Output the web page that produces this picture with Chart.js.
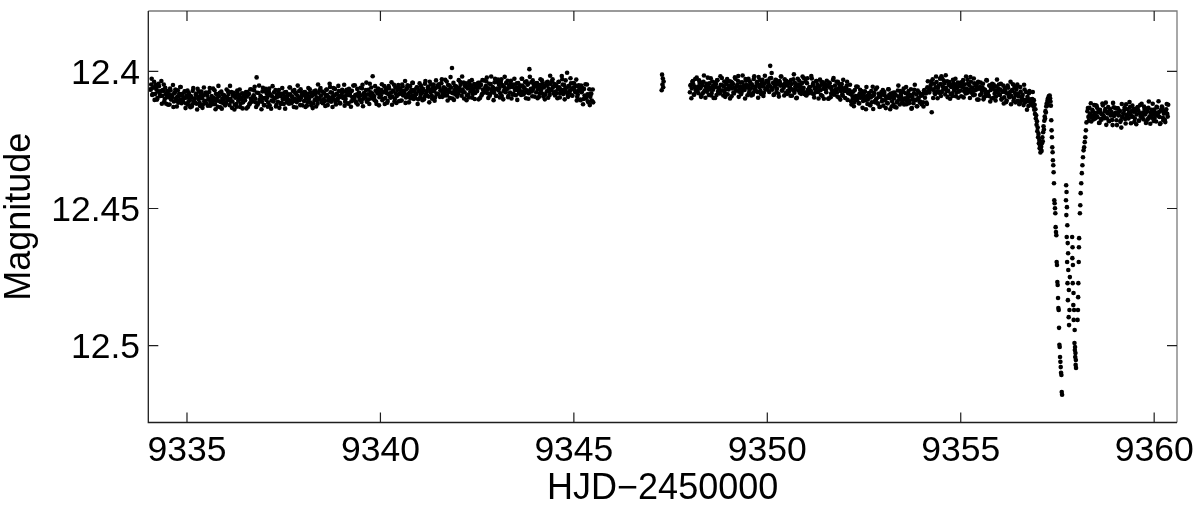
<!DOCTYPE html>
<html>
<head>
<meta charset="utf-8">
<script src="https://cdn.jsdelivr.net/npm/chart.js@4/dist/chart.umd.min.js"></script>
<style>
html,body{margin:0;padding:0;background:#fff;}
#wrap{width:1200px;height:509px;}
</style>
</head>
<body>
<div id="wrap"><canvas id="c" width="1200" height="509"></canvas></div>
<script>
// ---------- data (HJD-2450000, magnitude) ----------
const seg1Time = [
9334.05,9334.075,9334.1,9334.125,9334.15,9334.175,9334.2,9334.225,9334.25,9334.275,9334.3,9334.325,9334.35,9334.375,9334.4,9334.425,9334.45,9334.475,
9334.5,9334.525,9334.55,9334.575,9334.6,9334.625,9334.65,9334.675,9334.7,9334.725,9334.75,9334.775,9334.8,9334.825,9334.85,9334.875,9334.9,9334.925,9334.95,9334.975,
9335,9335.025,9335.05,9335.075,9335.1,9335.125,9335.15,9335.175,9335.2,9335.225,9335.25,9335.275,9335.3,9335.325,9335.35,9335.375,9335.4,9335.425,9335.45,9335.475,
9335.5,9335.525,9335.55,9335.575,9335.6,9335.625,9335.65,9335.675,9335.7,9335.725,9335.75,9335.775,9335.8,9335.825,9335.85,9335.875,9335.9,9335.925,9335.95,9335.975,
9336,9336.025,9336.05,9336.075,9336.1,9336.125,9336.15,9336.175,9336.2,9336.225,9336.25,9336.275,9336.3,9336.325,9336.35,9336.375,9336.4,9336.425,9336.45,9336.475,
9336.5,9336.525,9336.55,9336.575,9336.6,9336.625,9336.65,9336.675,9336.7,9336.725,9336.75,9336.775,9336.8,9336.825,9336.85,9336.875,9336.9,9336.925,9336.95,9336.975,
9337,9337.025,9337.05,9337.075,9337.1,9337.125,9337.15,9337.175,9337.2,9337.225,9337.25,9337.275,9337.3,9337.325,9337.35,9337.375,9337.4,9337.425,9337.45,9337.475,
9337.5,9337.525,9337.55,9337.575,9337.6,9337.625,9337.65,9337.675,9337.7,9337.725,9337.75,9337.775,9337.8,9337.825,9337.85,9337.875,9337.9,9337.925,9337.95,9337.975,
9338,9338.025,9338.05,9338.075,9338.1,9338.125,9338.15,9338.175,9338.2,9338.225,9338.25,9338.275,9338.3,9338.325,9338.35,9338.375,9338.4,9338.425,9338.45,9338.475,
9338.5,9338.525,9338.55,9338.575,9338.6,9338.625,9338.65,9338.675,9338.7,9338.725,9338.75,9338.775,9338.8,9338.825,9338.85,9338.875,9338.9,9338.925,9338.95,9338.975,
9339,9339.025,9339.05,9339.075,9339.1,9339.125,9339.15,9339.175,9339.2,9339.225,9339.25,9339.275,9339.3,9339.325,9339.35,9339.375,9339.4,9339.425,9339.45,9339.475,
9339.5,9339.525,9339.55,9339.575,9339.6,9339.625,9339.65,9339.675,9339.7,9339.725,9339.75,9339.775,9339.8,9339.825,9339.85,9339.875,9339.9,9339.925,9339.95,9339.975,
9340,9340.025,9340.05,9340.075,9340.1,9340.125,9340.15,9340.175,9340.2,9340.225,9340.25,9340.275,9340.3,9340.325,9340.35,9340.375,9340.4,9340.425,9340.45,9340.475,
9340.5,9340.525,9340.55,9340.575,9340.6,9340.625,9340.65,9340.675,9340.7,9340.725,9340.75,9340.775,9340.8,9340.825,9340.85,9340.875,9340.9,9340.925,9340.95,9340.975,
9341,9341.025,9341.05,9341.075,9341.1,9341.125,9341.15,9341.175,9341.2,9341.225,9341.25,9341.275,9341.3,9341.325,9341.35,9341.375,9341.4,9341.425,9341.45,9341.475,
9341.5,9341.525,9341.55,9341.575,9341.6,9341.625,9341.65,9341.675,9341.7,9341.725,9341.75,9341.775,9341.8,9341.825,9341.85,9341.875,9341.9,9341.925,9341.95,9341.975,
9342,9342.025,9342.05,9342.075,9342.1,9342.125,9342.15,9342.175,9342.2,9342.225,9342.25,9342.275,9342.3,9342.325,9342.35,9342.375,9342.4,9342.425,9342.45,9342.475,
9342.5,9342.525,9342.55,9342.575,9342.6,9342.625,9342.65,9342.675,9342.7,9342.725,9342.75,9342.775,9342.8,9342.825,9342.85,9342.875,9342.9,9342.925,9342.95,9342.975,
9343,9343.025,9343.05,9343.075,9343.1,9343.125,9343.15,9343.175,9343.2,9343.225,9343.25,9343.275,9343.3,9343.325,9343.35,9343.375,9343.4,9343.425,9343.45,9343.475,
9343.5,9343.525,9343.55,9343.575,9343.6,9343.625,9343.65,9343.675,9343.7,9343.725,9343.75,9343.775,9343.8,9343.825,9343.85,9343.875,9343.9,9343.925,9343.95,9343.975,
9344,9344.025,9344.05,9344.075,9344.1,9344.125,9344.15,9344.175,9344.2,9344.225,9344.25,9344.275,9344.3,9344.325,9344.35,9344.375,9344.4,9344.425,9344.45,9344.475,
9344.5,9344.525,9344.55,9344.575,9344.6,9344.625,9344.65,9344.675,9344.7,9344.725,9344.75,9344.775,9344.8,9344.825,9344.85,9344.875,9344.9,9344.925,9344.95,9344.975,
9345,9345.025,9345.05,9345.075,9345.1,9345.125,9345.15,9345.175,9345.2,9345.225,9345.25,9345.275,9345.3,9345.325,9345.35,9345.375,9345.4,9345.425,9345.45,9345.475,9345.5
];
const seg1Mag = [
12.4065,12.4048,12.4086,12.4059,12.4038,12.4083,12.4059,12.4103,12.4073,12.4054,12.4086,12.4072,12.4118,12.4068,12.4048,12.4101,12.4083,12.4094,
12.4077,12.4094,12.4121,12.4070,12.4100,12.4086,12.4130,12.4079,12.4066,12.4107,12.4092,12.4114,12.4082,12.4057,12.4103,12.4088,12.4111,12.4098,12.4074,12.4117,
12.4096,12.4122,12.4079,12.4105,12.4090,12.4128,12.4071,12.4110,12.4098,12.4085,12.4118,12.4064,12.4102,12.4114,12.4093,12.4074,12.4133,12.4088,12.4109,12.4081,
12.4116,12.4089,12.4102,12.4075,12.4125,12.4097,12.4110,12.4063,12.4106,12.4120,12.4082,12.4098,12.4129,12.4091,12.4078,12.4112,12.4136,12.4085,12.4103,12.4094,
12.4117,12.4066,12.4105,12.4083,12.4123,12.4100,12.4075,12.4110,12.4089,12.4139,12.4096,12.4119,12.4070,12.4107,12.4087,12.4130,12.4102,12.4080,12.4113,12.4092,
12.4105,12.4075,12.4092,12.4130,12.4082,12.4116,12.4099,12.4066,12.4109,12.4087,12.4056,12.4113,12.4022,12.4122,12.4079,12.4103,12.4090,12.4138,12.4073,12.4098,
12.4123,12.4073,12.4104,12.4095,12.4114,12.4063,12.4084,12.4136,12.4091,12.4107,12.4076,12.4097,12.4128,12.4086,12.4111,12.4068,12.4090,12.4119,12.4082,12.4101,
12.4119,12.4076,12.4100,12.4113,12.4090,12.4105,12.4059,12.4084,12.4116,12.4094,12.4109,12.4068,12.4081,12.4132,12.4088,12.4102,12.4072,12.4123,12.4096,12.4079,
12.4087,12.4108,12.4075,12.4097,12.4125,12.4082,12.4102,12.4065,12.4114,12.4091,12.4134,12.4084,12.4105,12.4070,12.4095,12.4118,12.4078,12.4100,12.4061,12.4112,
12.4074,12.4102,12.4081,12.4126,12.4067,12.4086,12.4107,12.4095,12.4057,12.4111,12.4078,12.4091,12.4103,12.4064,12.4121,12.4083,12.4098,12.4072,12.4115,12.4089,
12.4083,12.4092,12.4074,12.4125,12.4101,12.4067,12.4080,12.4118,12.4087,12.4071,12.4109,12.4095,12.4052,12.4099,12.4086,12.4114,12.4064,12.4091,12.4078,12.4105,
12.4087,12.4062,12.4127,12.4079,12.4092,12.4068,12.4111,12.4084,12.4102,12.4045,12.4076,12.4098,12.4018,12.4088,12.4105,12.4071,12.4119,12.4081,12.4064,12.4094,
12.4087,12.4068,12.4105,12.4076,12.4054,12.4097,12.4072,12.4114,12.4083,12.4062,12.4093,12.4077,12.4122,12.4070,12.4049,12.4100,12.4081,12.4090,12.4059,12.4109,
12.4062,12.4079,12.4106,12.4055,12.4085,12.4071,12.4115,12.4064,12.4051,12.4092,12.4077,12.4099,12.4067,12.4042,12.4088,12.4073,12.4096,12.4083,12.4059,12.4102,
12.4070,12.4096,12.4053,12.4079,12.4064,12.4102,12.4045,12.4084,12.4072,12.4059,12.4092,12.4038,12.4076,12.4088,12.4067,12.4048,12.4107,12.4062,12.4083,12.4055,
12.4084,12.4057,12.4070,12.4043,12.4093,12.4065,12.4078,12.4031,12.4074,12.4088,12.4050,12.4066,12.4097,12.4059,12.3988,12.4080,12.4104,12.4053,12.4071,12.4062,
12.4083,12.4032,12.4071,12.4049,12.4089,12.4066,12.4041,12.4076,12.4055,12.4105,12.4062,12.4085,12.4036,12.4073,12.4053,12.4096,12.4068,12.4046,12.4079,12.4058,
12.4072,12.4042,12.4059,12.4097,12.4049,12.4083,12.4066,12.4033,12.4076,12.4054,12.4023,12.4080,12.4062,12.4089,12.4046,12.4070,12.4057,12.4105,12.4040,12.4065,
12.4089,12.4039,12.4070,12.4061,12.4080,12.4029,12.4050,12.4102,12.4057,12.4073,12.4042,12.4063,12.4094,12.4052,12.4077,12.4034,12.4056,12.4085,12.4048,12.4067,
12.4087,12.4044,12.4068,12.4081,12.4058,12.4073,12.4027,12.4052,12.4084,12.4062,12.4077,12.4036,12.4049,12.4100,12.3992,12.4070,12.4040,12.4091,12.4064,12.4047,
12.4055,12.4076,12.4043,12.4065,12.4093,12.4050,12.4070,12.4033,12.4082,12.4059,12.4102,12.4052,12.4073,12.4038,12.4063,12.4086,12.4046,12.4068,12.4029,12.4080,
12.4046,12.4074,12.4053,12.4098,12.4039,12.4058,12.4079,12.4067,12.4029,12.4083,12.4050,12.4063,12.4075,12.4005,12.4093,12.4055,12.4070,12.4044,12.4087,12.4061,
12.4060,12.4070,12.4054,12.4106,12.4084,12.4051,12.4066,12.4105,12.4076,12.4061,12.4101,12.4088,12.4047,12.4095,12.4084,12.4113,12.4065,12.4093,12.4082,12.4110,12.4113
];
const seg1bTime = [
9334.0625,9334.0875,9334.1125,9334.1375,9334.1625,9334.1875,9334.2125,9334.2375,9334.2625,9334.2875,9334.3125,9334.3375,9334.3625,9334.3875,9334.4125,9334.4375,9334.4625,9334.4875,
9334.5125,9334.5375,9334.5625,9334.5875,9334.6125,9334.6375,9334.6625,9334.6875,9334.7125,9334.7375,9334.7625,9334.7875,9334.8125,9334.8375,9334.8625,9334.8875,9334.9125,9334.9375,9334.9625,9334.9875,
9335.0125,9335.0375,9335.0625,9335.0875,9335.1125,9335.1375,9335.1625,9335.1875,9335.2125,9335.2375,9335.2625,9335.2875,9335.3125,9335.3375,9335.3625,9335.3875,9335.4125,9335.4375,9335.4625,9335.4875,
9335.5125,9335.5375,9335.5625,9335.5875,9335.6125,9335.6375,9335.6625,9335.6875,9335.7125,9335.7375,9335.7625,9335.7875,9335.8125,9335.8375,9335.8625,9335.8875,9335.9125,9335.9375,9335.9625,9335.9875,
9336.0125,9336.0375,9336.0625,9336.0875,9336.1125,9336.1375,9336.1625,9336.1875,9336.2125,9336.2375,9336.2625,9336.2875,9336.3125,9336.3375,9336.3625,9336.3875,9336.4125,9336.4375,9336.4625,9336.4875,
9336.5125,9336.5375,9336.5625,9336.5875,9336.6125,9336.6375,9336.6625,9336.6875,9336.7125,9336.7375,9336.7625,9336.7875,9336.8125,9336.8375,9336.8625,9336.8875,9336.9125,9336.9375,9336.9625,9336.9875,
9337.0125,9337.0375,9337.0625,9337.0875,9337.1125,9337.1375,9337.1625,9337.1875,9337.2125,9337.2375,9337.2625,9337.2875,9337.3125,9337.3375,9337.3625,9337.3875,9337.4125,9337.4375,9337.4625,9337.4875,
9337.5125,9337.5375,9337.5625,9337.5875,9337.6125,9337.6375,9337.6625,9337.6875,9337.7125,9337.7375,9337.7625,9337.7875,9337.8125,9337.8375,9337.8625,9337.8875,9337.9125,9337.9375,9337.9625,9337.9875,
9338.0125,9338.0375,9338.0625,9338.0875,9338.1125,9338.1375,9338.1625,9338.1875,9338.2125,9338.2375,9338.2625,9338.2875,9338.3125,9338.3375,9338.3625,9338.3875,9338.4125,9338.4375,9338.4625,9338.4875,
9338.5125,9338.5375,9338.5625,9338.5875,9338.6125,9338.6375,9338.6625,9338.6875,9338.7125,9338.7375,9338.7625,9338.7875,9338.8125,9338.8375,9338.8625,9338.8875,9338.9125,9338.9375,9338.9625,9338.9875,
9339.0125,9339.0375,9339.0625,9339.0875,9339.1125,9339.1375,9339.1625,9339.1875,9339.2125,9339.2375,9339.2625,9339.2875,9339.3125,9339.3375,9339.3625,9339.3875,9339.4125,9339.4375,9339.4625,9339.4875,
9339.5125,9339.5375,9339.5625,9339.5875,9339.6125,9339.6375,9339.6625,9339.6875,9339.7125,9339.7375,9339.7625,9339.7875,9339.8125,9339.8375,9339.8625,9339.8875,9339.9125,9339.9375,9339.9625,9339.9875,
9340.0125,9340.0375,9340.0625,9340.0875,9340.1125,9340.1375,9340.1625,9340.1875,9340.2125,9340.2375,9340.2625,9340.2875,9340.3125,9340.3375,9340.3625,9340.3875,9340.4125,9340.4375,9340.4625,9340.4875,
9340.5125,9340.5375,9340.5625,9340.5875,9340.6125,9340.6375,9340.6625,9340.6875,9340.7125,9340.7375,9340.7625,9340.7875,9340.8125,9340.8375,9340.8625,9340.8875,9340.9125,9340.9375,9340.9625,9340.9875,
9341.0125,9341.0375,9341.0625,9341.0875,9341.1125,9341.1375,9341.1625,9341.1875,9341.2125,9341.2375,9341.2625,9341.2875,9341.3125,9341.3375,9341.3625,9341.3875,9341.4125,9341.4375,9341.4625,9341.4875,
9341.5125,9341.5375,9341.5625,9341.5875,9341.6125,9341.6375,9341.6625,9341.6875,9341.7125,9341.7375,9341.7625,9341.7875,9341.8125,9341.8375,9341.8625,9341.8875,9341.9125,9341.9375,9341.9625,9341.9875,
9342.0125,9342.0375,9342.0625,9342.0875,9342.1125,9342.1375,9342.1625,9342.1875,9342.2125,9342.2375,9342.2625,9342.2875,9342.3125,9342.3375,9342.3625,9342.3875,9342.4125,9342.4375,9342.4625,9342.4875,
9342.5125,9342.5375,9342.5625,9342.5875,9342.6125,9342.6375,9342.6625,9342.6875,9342.7125,9342.7375,9342.7625,9342.7875,9342.8125,9342.8375,9342.8625,9342.8875,9342.9125,9342.9375,9342.9625,9342.9875,
9343.0125,9343.0375,9343.0625,9343.0875,9343.1125,9343.1375,9343.1625,9343.1875,9343.2125,9343.2375,9343.2625,9343.2875,9343.3125,9343.3375,9343.3625,9343.3875,9343.4125,9343.4375,9343.4625,9343.4875,
9343.5125,9343.5375,9343.5625,9343.5875,9343.6125,9343.6375,9343.6625,9343.6875,9343.7125,9343.7375,9343.7625,9343.7875,9343.8125,9343.8375,9343.8625,9343.8875,9343.9125,9343.9375,9343.9625,9343.9875,
9344.0125,9344.0375,9344.0625,9344.0875,9344.1125,9344.1375,9344.1625,9344.1875,9344.2125,9344.2375,9344.2625,9344.2875,9344.3125,9344.3375,9344.3625,9344.3875,9344.4125,9344.4375,9344.4625,9344.4875,
9344.5125,9344.5375,9344.5625,9344.5875,9344.6125,9344.6375,9344.6625,9344.6875,9344.7125,9344.7375,9344.7625,9344.7875,9344.8125,9344.8375,9344.8625,9344.8875,9344.9125,9344.9375,9344.9625,9344.9875,
9345.0125,9345.0375,9345.0625,9345.0875,9345.1125,9345.1375,9345.1625,9345.1875,9345.2125,9345.2375,9345.2625,9345.2875,9345.3125,9345.3375,9345.3625,9345.3875,9345.4125,9345.4375,9345.4625,9345.4875
];
const seg1bMag = [
12.4067,12.4027,12.4083,12.4059,12.4104,12.4049,12.4067,12.4097,12.4045,12.4077,12.4090,12.4035,12.4089,12.4071,12.4110,12.4060,12.4118,12.4072,
12.4122,12.4085,12.4063,12.4103,12.4094,12.4050,12.4110,12.4076,12.4099,12.4128,12.4069,12.4091,12.4105,12.4057,12.4116,12.4082,12.4097,12.4073,12.4134,12.4088,
12.4070,12.4111,12.4088,12.4131,12.4095,12.4120,12.4061,12.4104,12.4115,12.4081,12.4139,12.4092,12.4074,12.4126,12.4084,12.4098,12.4121,12.4059,12.4107,12.4077,
12.4079,12.4125,12.4102,12.4061,12.4113,12.4090,12.4120,12.4096,12.4069,12.4138,12.4107,12.4084,12.4053,12.4109,12.4131,12.4074,12.4100,12.4116,12.4087,12.4124,
12.4114,12.4094,12.4073,12.4103,12.4053,12.4110,12.4133,12.4087,12.4078,12.4122,12.4090,12.4129,12.4082,12.4099,12.4066,12.4117,12.4096,12.4135,12.4089,12.4081,
12.4089,12.4135,12.4075,12.4084,12.4121,12.4065,12.4104,12.4110,12.4092,12.4070,12.4099,12.4130,12.4078,12.4116,12.4052,12.4106,12.4093,12.4111,12.4060,12.4123,
12.4097,12.4064,12.4082,12.4129,12.4073,12.4124,12.4087,12.4106,12.4054,12.4110,12.4099,12.4068,12.4122,12.4093,12.4077,12.4133,12.4090,12.4115,12.4061,12.4102,
12.4090,12.4136,12.4075,12.4099,12.4084,12.4118,12.4059,12.4107,12.4093,12.4071,12.4130,12.4101,12.4078,12.4112,12.4052,12.4096,12.4105,12.4065,12.4087,12.4124,
12.4076,12.4084,12.4130,12.4091,12.4112,12.4061,12.4094,12.4077,12.4124,12.4085,12.4117,12.4073,12.4082,12.4128,12.4105,12.4048,12.4098,12.4068,12.4089,12.4109,
12.4116,12.4079,12.4108,12.4092,12.4066,12.4123,12.4101,12.4045,12.4076,12.4099,12.4130,12.4061,12.4088,12.4112,12.4082,12.4105,12.4053,12.4094,12.4117,12.4071,
12.4067,12.4097,12.4049,12.4111,12.4088,12.4074,12.4116,12.4064,12.4082,12.4129,12.4071,12.4105,12.4094,12.4051,12.4110,12.4085,12.4121,12.4078,12.4101,12.4060,
12.4112,12.4049,12.4100,12.4082,12.4095,12.4041,12.4105,12.4067,12.4119,12.4088,12.4059,12.4081,12.4099,12.4093,12.4054,12.4110,12.4073,12.4064,12.4124,12.4078,
12.4088,12.4047,12.4101,12.4076,12.4119,12.4063,12.4079,12.4108,12.4054,12.4085,12.4096,12.4040,12.4092,12.4073,12.4110,12.4059,12.4115,12.4068,12.4050,12.4083,
12.4107,12.4070,12.4048,12.4088,12.4079,12.4035,12.4095,12.4061,12.4084,12.4113,12.4054,12.4076,12.4090,12.4042,12.4101,12.4067,12.4082,12.4058,12.4119,12.4073,
12.4044,12.4085,12.4062,12.4105,12.4069,12.4094,12.4035,12.4078,12.4089,12.4055,12.4113,12.4066,12.4048,12.4100,12.4058,12.4072,12.4095,12.4033,12.4081,12.4051,
12.4047,12.4093,12.4070,12.4029,12.4081,12.4058,12.4088,12.4064,12.4037,12.4106,12.4075,12.4052,12.4021,12.4077,12.4099,12.4042,12.4068,12.4084,12.4055,12.4092,
12.4080,12.4060,12.4039,12.4069,12.4019,12.4076,12.4099,12.4053,12.4044,12.4088,12.4056,12.4095,12.4048,12.4065,12.4032,12.4083,12.4062,12.4101,12.4055,12.4047,
12.4056,12.4102,12.4042,12.4051,12.4088,12.4032,12.4071,12.4077,12.4059,12.4037,12.4066,12.4097,12.4045,12.4083,12.4019,12.4073,12.4060,12.4078,12.4027,12.4090,
12.4063,12.4030,12.4048,12.4095,12.4039,12.4090,12.4053,12.4072,12.4020,12.4076,12.4065,12.4034,12.4088,12.4059,12.4043,12.4099,12.4056,12.4081,12.4027,12.4068,
12.4058,12.4104,12.4043,12.4067,12.4052,12.4086,12.4027,12.4075,12.4061,12.4039,12.4098,12.4069,12.4046,12.4080,12.4020,12.4064,12.4073,12.4033,12.4055,12.4092,
12.4044,12.4052,12.4098,12.4059,12.4080,12.4029,12.4062,12.4045,12.4092,12.4053,12.4085,12.4041,12.4050,12.4096,12.4073,12.4016,12.4066,12.4036,12.4057,12.4077,
12.4088,12.4051,12.4080,12.4064,12.4038,12.4095,12.4073,12.4017,12.4048,12.4071,12.4102,12.4033,12.4060,12.4084,12.4054,12.4077,12.4025,12.4066,12.4089,12.4043,
12.4045,12.4076,12.4030,12.4093,12.4072,12.4059,12.4103,12.4052,12.4072,12.4120,12.4064,12.4099,12.4090,12.4048,12.4109,12.4085,12.4123,12.4081,12.4106,12.4066
];

const gapTime = [9347.27,9347.28,9347.29,9347.30,9347.31,9347.32];
const gapMag  = [12.4069,12.4012,12.4048,12.4026,12.4058,12.4037];

const seg2Time = [
9348,9348.025,9348.05,9348.075,9348.1,9348.125,9348.15,9348.175,9348.2,9348.225,9348.25,9348.275,9348.3,9348.325,9348.35,9348.375,9348.4,9348.425,9348.45,9348.475,
9348.5,9348.525,9348.55,9348.575,9348.6,9348.625,9348.65,9348.675,9348.7,9348.725,9348.75,9348.775,9348.8,9348.825,9348.85,9348.875,9348.9,9348.925,9348.95,9348.975,
9349,9349.025,9349.05,9349.075,9349.1,9349.125,9349.15,9349.175,9349.2,9349.225,9349.25,9349.275,9349.3,9349.325,9349.35,9349.375,9349.4,9349.425,9349.45,9349.475,
9349.5,9349.525,9349.55,9349.575,9349.6,9349.625,9349.65,9349.675,9349.7,9349.725,9349.75,9349.775,9349.8,9349.825,9349.85,9349.875,9349.9,9349.925,9349.95,9349.975,
9350,9350.025,9350.05,9350.075,9350.1,9350.125,9350.15,9350.175,9350.2,9350.225,9350.25,9350.275,9350.3,9350.325,9350.35,9350.375,9350.4,9350.425,9350.45,9350.475,
9350.5,9350.525,9350.55,9350.575,9350.6,9350.625,9350.65,9350.675,9350.7,9350.725,9350.75,9350.775,9350.8,9350.825,9350.85,9350.875,9350.9,9350.925,9350.95,9350.975,
9351,9351.025,9351.05,9351.075,9351.1,9351.125,9351.15,9351.175,9351.2,9351.225,9351.25,9351.275,9351.3,9351.325,9351.35,9351.375,9351.4,9351.425,9351.45,9351.475,
9351.5,9351.525,9351.55,9351.575,9351.6,9351.625,9351.65,9351.675,9351.7,9351.725,9351.75,9351.775,9351.8,9351.825,9351.85,9351.875,9351.9,9351.925,9351.95,9351.975,
9352,9352.025,9352.05,9352.075,9352.1,9352.125,9352.15,9352.175,9352.2,9352.225,9352.25,9352.275,9352.3,9352.325,9352.35,9352.375,9352.4,9352.425,9352.45,9352.475,
9352.5,9352.525,9352.55,9352.575,9352.6,9352.625,9352.65,9352.675,9352.7,9352.725,9352.75,9352.775,9352.8,9352.825,9352.85,9352.875,9352.9,9352.925,9352.95,9352.975,
9353,9353.025,9353.05,9353.075,9353.1,9353.125,9353.15,9353.175,9353.2,9353.225,9353.25,9353.275,9353.3,9353.325,9353.35,9353.375,9353.4,9353.425,9353.45,9353.475,
9353.5,9353.525,9353.55,9353.575,9353.6,9353.625,9353.65,9353.675,9353.7,9353.725,9353.75,9353.775,9353.8,9353.825,9353.85,9353.875,9353.9,9353.925,9353.95,9353.975,
9354,9354.025,9354.05,9354.075,9354.1,9354.125,9354.15,9354.175,9354.2,9354.225,9354.25,9354.275,9354.3,9354.325,9354.35,9354.375,9354.4,9354.425,9354.45,9354.475,
9354.5,9354.525,9354.55,9354.575,9354.6,9354.625,9354.65,9354.675,9354.7,9354.725,9354.75,9354.775,9354.8,9354.825,9354.85,9354.875,9354.9,9354.925,9354.95,9354.975,
9355,9355.025,9355.05,9355.075,9355.1,9355.125,9355.15,9355.175,9355.2,9355.225,9355.25,9355.275,9355.3,9355.325,9355.35,9355.375,9355.4,9355.425,9355.45,9355.475,
9355.5,9355.525,9355.55,9355.575,9355.6,9355.625,9355.65,9355.675,9355.7,9355.725,9355.75,9355.775,9355.8,9355.825,9355.85,9355.875,9355.9,9355.925,9355.95,9355.975,
9356,9356.025,9356.05,9356.075,9356.1,9356.125,9356.15,9356.175,9356.2,9356.225,9356.25,9356.275,9356.3,9356.325,9356.35,9356.375,9356.4,9356.425,9356.45,9356.475,
9356.5,9356.525,9356.55,9356.575,9356.6,9356.625,9356.65,9356.675,9356.7,9356.725,9356.75,9356.775,9356.8,9356.825,9356.85
];
const seg2Mag = [
12.4076,12.4049,12.4062,12.4035,12.4085,12.4057,12.4070,12.4023,12.4066,12.4080,12.4042,12.4058,12.4089,12.4051,12.4038,12.4072,12.4096,12.4045,12.4063,12.4054,
12.4044,12.4061,12.4088,12.4037,12.4067,12.4053,12.4097,12.4046,12.4033,12.4074,12.4059,12.4081,12.4049,12.4024,12.4070,12.4055,12.4078,12.4065,12.4041,12.4084,
12.4066,12.4036,12.4053,12.4091,12.4043,12.4077,12.4060,12.4027,12.4070,12.4048,12.4017,12.4074,12.4056,12.4083,12.4040,12.4064,12.4051,12.4099,12.4034,12.4059,
12.4053,12.4079,12.4036,12.4062,12.4047,12.4085,12.4028,12.4067,12.4055,12.4042,12.4075,12.4021,12.4059,12.4071,12.4050,12.4031,12.4090,12.4045,12.4066,12.4038,
12.4057,12.4038,12.4075,12.3980,12.4024,12.4067,12.4042,12.4084,12.4053,12.4032,12.4063,12.4047,12.4092,12.4040,12.4019,12.4070,12.4051,12.4060,12.4029,12.4079,
12.4051,12.4072,12.4039,12.4061,12.4089,12.4046,12.4066,12.4029,12.4078,12.4055,12.4098,12.4048,12.4069,12.4034,12.4059,12.4082,12.4042,12.4064,12.4025,12.4076,
12.4086,12.4043,12.4067,12.4080,12.4057,12.4072,12.4026,12.4051,12.4083,12.4061,12.4076,12.4035,12.4048,12.4099,12.4055,12.4069,12.4039,12.4090,12.4063,12.4046,
12.4048,12.4076,12.4055,12.4100,12.4041,12.4060,12.4081,12.4069,12.4031,12.4085,12.4052,12.4065,12.4077,12.4038,12.4095,12.4057,12.4072,12.4046,12.4089,12.4063,
12.4062,12.4071,12.4053,12.4104,12.4080,12.4070,12.4083,12.4121,12.4090,12.4074,12.4112,12.4098,12.4055,12.4102,12.4089,12.4117,12.4067,12.4094,12.4081,12.4108,
12.4098,12.4073,12.4138,12.4090,12.4103,12.4079,12.4122,12.4095,12.4113,12.4056,12.4087,12.4109,12.4066,12.4099,12.4116,12.4082,12.4130,12.4092,12.4075,12.4105,
12.4125,12.4075,12.4106,12.4097,12.4116,12.4065,12.4086,12.4138,12.4093,12.4109,12.4078,12.4099,12.4130,12.4088,12.4113,12.4070,12.4092,12.4121,12.4084,12.4103,
12.4114,12.4063,12.4102,12.4080,12.4120,12.4097,12.4072,12.4107,12.4086,12.4136,12.4093,12.4116,12.4067,12.4104,12.4084,12.4127,12.4099,12.4077,12.4110,12.4089,
12.4087,12.4113,12.4070,12.4096,12.4081,12.4119,12.4036,12.4075,12.4063,12.4050,12.4149,12.4029,12.4067,12.4079,12.4058,12.4039,12.4098,12.4053,12.4074,12.4046,
12.4018,12.4027,12.4066,12.4044,12.4084,12.4061,12.4036,12.4071,12.4050,12.4100,12.4057,12.4080,12.4031,12.4068,12.4048,12.4091,12.4063,12.4041,12.4074,12.4053,
12.4070,12.4040,12.4057,12.4095,12.4047,12.4081,12.4064,12.4031,12.4074,12.4052,12.4021,12.4078,12.4060,12.4087,12.4044,12.4068,12.4055,12.4103,12.4038,12.4063,
12.4086,12.4059,12.4072,12.4045,12.4095,12.4067,12.4080,12.4033,12.4076,12.4090,12.4052,12.4068,12.4099,12.4061,12.4048,12.4082,12.4106,12.4055,12.4073,12.4064,
12.4085,12.4066,12.4103,12.4074,12.4052,12.4095,12.4070,12.4112,12.4081,12.4060,12.4091,12.4075,12.4120,12.4068,12.4047,12.4098,12.4079,12.4088,12.4057,12.4107,
12.4091,12.4117,12.4074,12.4100,12.4085,12.4123,12.4066,12.4105,12.4106,12.4093,12.4126,12.4072,12.4110,12.4122,12.4101
];
const seg2bTime = [
9348.0125,9348.0375,9348.0625,9348.0875,9348.1125,9348.1375,9348.1625,9348.1875,9348.2125,9348.2375,9348.2625,9348.2875,9348.3125,9348.3375,9348.3625,9348.3875,9348.4125,9348.4375,9348.4625,9348.4875,
9348.5125,9348.5375,9348.5625,9348.5875,9348.6125,9348.6375,9348.6625,9348.6875,9348.7125,9348.7375,9348.7625,9348.7875,9348.8125,9348.8375,9348.8625,9348.8875,9348.9125,9348.9375,9348.9625,9348.9875,
9349.0125,9349.0375,9349.0625,9349.0875,9349.1125,9349.1375,9349.1625,9349.1875,9349.2125,9349.2375,9349.2625,9349.2875,9349.3125,9349.3375,9349.3625,9349.3875,9349.4125,9349.4375,9349.4625,9349.4875,
9349.5125,9349.5375,9349.5625,9349.5875,9349.6125,9349.6375,9349.6625,9349.6875,9349.7125,9349.7375,9349.7625,9349.7875,9349.8125,9349.8375,9349.8625,9349.8875,9349.9125,9349.9375,9349.9625,9349.9875,
9350.0125,9350.0375,9350.0625,9350.0875,9350.1125,9350.1375,9350.1625,9350.1875,9350.2125,9350.2375,9350.2625,9350.2875,9350.3125,9350.3375,9350.3625,9350.3875,9350.4125,9350.4375,9350.4625,9350.4875,
9350.5125,9350.5375,9350.5625,9350.5875,9350.6125,9350.6375,9350.6625,9350.6875,9350.7125,9350.7375,9350.7625,9350.7875,9350.8125,9350.8375,9350.8625,9350.8875,9350.9125,9350.9375,9350.9625,9350.9875,
9351.0125,9351.0375,9351.0625,9351.0875,9351.1125,9351.1375,9351.1625,9351.1875,9351.2125,9351.2375,9351.2625,9351.2875,9351.3125,9351.3375,9351.3625,9351.3875,9351.4125,9351.4375,9351.4625,9351.4875,
9351.5125,9351.5375,9351.5625,9351.5875,9351.6125,9351.6375,9351.6625,9351.6875,9351.7125,9351.7375,9351.7625,9351.7875,9351.8125,9351.8375,9351.8625,9351.8875,9351.9125,9351.9375,9351.9625,9351.9875,
9352.0125,9352.0375,9352.0625,9352.0875,9352.1125,9352.1375,9352.1625,9352.1875,9352.2125,9352.2375,9352.2625,9352.2875,9352.3125,9352.3375,9352.3625,9352.3875,9352.4125,9352.4375,9352.4625,9352.4875,
9352.5125,9352.5375,9352.5625,9352.5875,9352.6125,9352.6375,9352.6625,9352.6875,9352.7125,9352.7375,9352.7625,9352.7875,9352.8125,9352.8375,9352.8625,9352.8875,9352.9125,9352.9375,9352.9625,9352.9875,
9353.0125,9353.0375,9353.0625,9353.0875,9353.1125,9353.1375,9353.1625,9353.1875,9353.2125,9353.2375,9353.2625,9353.2875,9353.3125,9353.3375,9353.3625,9353.3875,9353.4125,9353.4375,9353.4625,9353.4875,
9353.5125,9353.5375,9353.5625,9353.5875,9353.6125,9353.6375,9353.6625,9353.6875,9353.7125,9353.7375,9353.7625,9353.7875,9353.8125,9353.8375,9353.8625,9353.8875,9353.9125,9353.9375,9353.9625,9353.9875,
9354.0125,9354.0375,9354.0625,9354.0875,9354.1125,9354.1375,9354.1625,9354.1875,9354.2125,9354.2375,9354.2625,9354.2875,9354.3125,9354.3375,9354.3625,9354.3875,9354.4125,9354.4375,9354.4625,9354.4875,
9354.5125,9354.5375,9354.5625,9354.5875,9354.6125,9354.6375,9354.6625,9354.6875,9354.7125,9354.7375,9354.7625,9354.7875,9354.8125,9354.8375,9354.8625,9354.8875,9354.9125,9354.9375,9354.9625,9354.9875,
9355.0125,9355.0375,9355.0625,9355.0875,9355.1125,9355.1375,9355.1625,9355.1875,9355.2125,9355.2375,9355.2625,9355.2875,9355.3125,9355.3375,9355.3625,9355.3875,9355.4125,9355.4375,9355.4625,9355.4875,
9355.5125,9355.5375,9355.5625,9355.5875,9355.6125,9355.6375,9355.6625,9355.6875,9355.7125,9355.7375,9355.7625,9355.7875,9355.8125,9355.8375,9355.8625,9355.8875,9355.9125,9355.9375,9355.9625,9355.9875,
9356.0125,9356.0375,9356.0625,9356.0875,9356.1125,9356.1375,9356.1625,9356.1875,9356.2125,9356.2375,9356.2625,9356.2875,9356.3125,9356.3375,9356.3625,9356.3875,9356.4125,9356.4375,9356.4625,9356.4875,
9356.5125,9356.5375,9356.5625,9356.5875,9356.6125,9356.6375,9356.6625,9356.6875,9356.7125,9356.7375,9356.7625,9356.7875,9356.8125,9356.8375,9356.8625
];
const seg2bMag = [
12.4052,12.4098,12.4038,12.4047,12.4084,12.4028,12.4067,12.4073,12.4055,12.4033,12.4062,12.4093,12.4041,12.4079,12.4015,12.4069,12.4056,12.4074,12.4023,12.4086,
12.4066,12.4025,12.4079,12.4054,12.4097,12.4041,12.4057,12.4086,12.4032,12.4063,12.4074,12.4018,12.4070,12.4051,12.4088,12.4037,12.4093,12.4046,12.4028,12.4061,
12.4053,12.4099,12.4038,12.4062,12.4047,12.4081,12.4022,12.4070,12.4056,12.4034,12.4093,12.4064,12.4041,12.4075,12.4015,12.4059,12.4068,12.4028,12.4050,12.4087,
12.4027,12.4068,12.4045,12.4088,12.4052,12.4077,12.4018,12.4061,12.4072,12.4038,12.4096,12.4049,12.4031,12.4083,12.4041,12.4055,12.4078,12.4016,12.4064,12.4034,
12.4067,12.4047,12.4026,12.4056,12.4006,12.4063,12.4086,12.4040,12.4031,12.4075,12.4043,12.4082,12.4035,12.4052,12.4019,12.4070,12.4049,12.4088,12.4042,12.4034,
12.4082,12.4045,12.4074,12.4058,12.4032,12.4089,12.4067,12.4011,12.4042,12.4065,12.4096,12.4027,12.4054,12.4078,12.4048,12.4071,12.4019,12.4060,12.4083,12.4037,
12.4088,12.4025,12.4076,12.4058,12.4071,12.4017,12.4081,12.4043,12.4095,12.4064,12.4035,12.4057,12.4075,12.4069,12.4030,12.4086,12.4049,12.4040,12.4100,12.4054,
12.4067,12.4034,12.4052,12.4099,12.4043,12.4094,12.4057,12.4076,12.4024,12.4080,12.4069,12.4038,12.4092,12.4063,12.4047,12.4103,12.4060,12.4085,12.4031,12.4072,
12.4097,12.4060,12.4038,12.4078,12.4069,12.4049,12.4109,12.4075,12.4098,12.4127,12.4068,12.4090,12.4104,12.4056,12.4115,12.4081,12.4096,12.4072,12.4133,12.4087,
12.4075,12.4105,12.4057,12.4119,12.4096,12.4082,12.4124,12.4072,12.4090,12.4137,12.4079,12.4113,12.4102,12.4059,12.4118,12.4093,12.4129,12.4086,12.4109,12.4068,
12.4080,12.4088,12.4134,12.4095,12.4116,12.4065,12.4098,12.4081,12.4128,12.4089,12.4121,12.4077,12.4086,12.4132,12.4109,12.4052,12.4102,12.4072,12.4093,12.4113,
12.4075,12.4121,12.4098,12.4057,12.4109,12.4086,12.4116,12.4092,12.4065,12.4134,12.4103,12.4080,12.4049,12.4105,12.4127,12.4070,12.4096,12.4112,12.4083,12.4120,
12.4082,12.4128,12.4068,12.4077,12.4114,12.4058,12.4071,12.4077,12.4059,12.4037,12.4066,12.4097,12.4045,12.4083,12.4019,12.4073,12.4060,12.4078,12.4027,12.4090,
12.4075,12.4055,12.4034,12.4064,12.4014,12.4071,12.4094,12.4048,12.4039,12.4083,12.4051,12.4090,12.4043,12.4060,12.4027,12.4078,12.4057,12.4096,12.4050,12.4042,
12.4091,12.4054,12.4032,12.4072,12.4063,12.4019,12.4079,12.4045,12.4068,12.4097,12.4038,12.4060,12.4074,12.4026,12.4085,12.4051,12.4066,12.4042,12.4103,12.4057,
12.4041,12.4082,12.4059,12.4102,12.4066,12.4091,12.4032,12.4075,12.4086,12.4052,12.4110,12.4063,12.4045,12.4097,12.4055,12.4069,12.4092,12.4030,12.4078,12.4048,
12.4086,12.4045,12.4099,12.4074,12.4117,12.4061,12.4077,12.4106,12.4052,12.4083,12.4094,12.4038,12.4090,12.4071,12.4108,12.4057,12.4113,12.4066,12.4048,12.4081,
12.4120,12.4057,12.4108,12.4090,12.4103,12.4049,12.4113,12.4075,12.4140,12.4109,12.4080,12.4102,12.4120,12.4114,12.4075
];

const dipTime = [
9356.87,9356.88,9356.89,9356.90,9356.91,9356.92,9356.93,9356.94,9356.95,9356.96,9356.97,9356.98,9356.99,9357.00,9357.01,9357.02,
9357.03,9357.04,9357.05,9357.06,9357.07,9357.08,9357.09,9357.10,9357.11,9357.12,9357.13,9357.14,9357.15,9357.16,9357.17,9357.18,
9357.19,9357.20,9357.21,9357.22,9357.23,9357.24,9357.25,9357.26,9357.27,9357.28,9357.29,9357.30,9357.31,9357.32,9357.33
];
const dipMag = [
12.4112,12.4128,12.4105,12.4140,12.4122,12.4155,12.4138,12.4172,12.4160,12.4195,12.4182,12.4218,12.4205,12.4240,12.4228,12.4262,
12.4250,12.4280,12.4270,12.4296,12.4285,12.4275,12.4290,12.4262,12.4240,12.4255,12.4222,12.4200,12.4212,12.4180,12.4165,12.4172,
12.4145,12.4150,12.4128,12.4118,12.4125,12.4108,12.4100,12.4112,12.4095,12.4090,12.4102,12.4088,12.4098,12.4110,12.4125
];

const ingressTime = [
9357.340,9357.348,9357.357,9357.366,9357.375,9357.383,9357.392,9357.401,9357.410,9357.418,9357.427,9357.436,9357.445,9357.453,9357.462,9357.471,9357.480,
9357.488,9357.497,9357.506,9357.515,9357.523,9357.532,9357.541,9357.550,9357.558,9357.567,9357.576,9357.585,9357.593,9357.602,9357.611,9357.620
];
const ingressMag = [
12.4178,12.4215,12.4240,12.4277,12.4295,12.4324,12.4342,12.4368,12.4408,12.4470,12.4481,12.4499,12.4517,12.4568,12.4586,12.4597,12.4695,
12.4706,12.4768,12.4779,12.4826,12.4863,12.4870,12.4935,12.4997,12.5005,12.5041,12.5059,12.5078,12.5099,12.5107,12.5169,12.5179
];

const coreTime = [
9357.72,9357.725,9357.73,9357.735,9357.74,9357.745,9357.75,9357.755,9357.76,9357.765,9357.77,9357.775,9357.78,9357.79,9357.795,9357.80,9357.81,9357.82,
9357.88,9357.885,9357.89,9357.895,9357.90,9357.91,9357.915,9357.92,9357.93,9357.94,9357.945,9357.95,9357.955,9357.96,9357.965,9357.97,9357.975,9357.98
];
const coreMag = [
12.4470,12.4415,12.4524,12.4440,12.4604,12.4495,12.4695,12.4561,12.4772,12.4626,12.4834,12.4663,12.4724,12.4896,12.4797,12.4925,12.4870,12.4750,
12.4604,12.4681,12.4641,12.4772,12.4706,12.4852,12.4808,12.4906,12.4870,12.4990,12.4943,12.5016,12.5005,12.5041,12.5027,12.5070,12.5052,12.5081
];

const egressTime = [
9358.02,9358.03,9358.035,9358.04,9358.05,9358.055,9358.06,9358.08,9358.09,9358.10,
9358.115,9358.13,9358.145,9358.16,9358.175,9358.19,9358.205,9358.22,9358.235,9358.25
];
const egressMag = [
12.4906,12.4870,12.4823,12.4772,12.4695,12.4641,12.4608,12.4517,12.4488,12.4444,
12.4408,12.4371,12.4342,12.4313,12.4288,12.4277,12.4258,12.4240,12.4215,12.4186
];

const seg3Time = [
9358.275,9358.3,9358.325,9358.35,9358.375,9358.4,9358.425,9358.45,9358.475,
9358.5,9358.525,9358.55,9358.575,9358.6,9358.625,9358.65,9358.675,9358.7,9358.725,9358.75,9358.775,9358.8,9358.825,9358.85,9358.875,9358.9,9358.925,9358.95,9358.975,
9359,9359.025,9359.05,9359.075,9359.1,9359.125,9359.15,9359.175,9359.2,9359.225,9359.25,9359.275,9359.3,9359.325,9359.35,9359.375,9359.4,9359.425,9359.45,9359.475,
9359.5,9359.525,9359.55,9359.575,9359.6,9359.625,9359.65,9359.675,9359.7,9359.725,9359.75,9359.775,9359.8,9359.825,9359.85,9359.875,9359.9,9359.925,9359.95,9359.975,
9360,9360.025,9360.05,9360.075,9360.1,9360.125,9360.15,9360.175,9360.2,9360.225,9360.25,9360.275,9360.3,9360.325,9360.35
];
const seg3Mag = [
12.4145,12.4166,12.4133,12.4155,12.4183,12.4140,12.4160,12.4123,12.4172,
12.4163,12.4133,12.4150,12.4188,12.4140,12.4174,12.4157,12.4124,12.4167,12.4145,12.4114,12.4171,12.4153,12.4180,12.4137,12.4161,12.4148,12.4196,12.4131,12.4156,
12.4152,12.4178,12.4135,12.4161,12.4146,12.4184,12.4205,12.4166,12.4154,12.4141,12.4174,12.4120,12.4158,12.4170,12.4149,12.4130,12.4189,12.4144,12.4165,12.4137,
12.4171,12.4144,12.4157,12.4130,12.4180,12.4152,12.4165,12.4118,12.4161,12.4175,12.4137,12.4153,12.4184,12.4146,12.4133,12.4167,12.4191,12.4140,12.4158,12.4149,
12.4139,12.4156,12.4183,12.4132,12.4162,12.4148,12.4192,12.4141,12.4128,12.4169,12.4154,12.4176,12.4144,12.4119,12.4165
];
const seg3bTime = [
9358.2875,9358.3125,9358.3375,9358.3625,9358.3875,9358.4125,9358.4375,9358.4625,9358.4875,
9358.5125,9358.5375,9358.5625,9358.5875,9358.6125,9358.6375,9358.6625,9358.6875,9358.7125,9358.7375,9358.7625,9358.7875,9358.8125,9358.8375,9358.8625,9358.8875,9358.9125,9358.9375,9358.9625,9358.9875,
9359.0125,9359.0375,9359.0625,9359.0875,9359.1125,9359.1375,9359.1625,9359.1875,9359.2125,9359.2375,9359.2625,9359.2875,9359.3125,9359.3375,9359.3625,9359.3875,9359.4125,9359.4375,9359.4625,9359.4875,
9359.5125,9359.5375,9359.5625,9359.5875,9359.6125,9359.6375,9359.6625,9359.6875,9359.7125,9359.7375,9359.7625,9359.7875,9359.8125,9359.8375,9359.8625,9359.8875,9359.9125,9359.9375,9359.9625,9359.9875,
9360.0125,9360.0375,9360.0625,9360.0875,9360.1125,9360.1375,9360.1625,9360.1875,9360.2125,9360.2375,9360.2625,9360.2875,9360.3125,9360.3375,9360.3625
];
const seg3bMag = [
12.4134,12.4180,12.4157,12.4116,12.4168,12.4145,12.4175,12.4151,12.4124,
12.4126,12.4167,12.4144,12.4187,12.4151,12.4176,12.4117,12.4160,12.4171,12.4137,12.4195,12.4148,12.4130,12.4182,12.4140,12.4154,12.4177,12.4115,12.4163,12.4133,
12.4150,12.4196,12.4135,12.4159,12.4144,12.4178,12.4119,12.4167,12.4153,12.4131,12.4190,12.4161,12.4138,12.4172,12.4112,12.4156,12.4165,12.4125,12.4147,12.4184,
12.4147,12.4193,12.4133,12.4142,12.4179,12.4123,12.4162,12.4168,12.4150,12.4128,12.4157,12.4188,12.4136,12.4174,12.4110,12.4164,12.4151,12.4169,12.4118,12.4181,
12.4170,12.4150,12.4129,12.4159,12.4109,12.4166,12.4189,12.4143,12.4134,12.4178,12.4146,12.4185,12.4138,12.4155,12.4122
];

const xTickValues = [9335, 9340, 9345, 9350, 9355, 9360];
const xTickLabels = ['9335', '9340', '9345', '9350', '9355', '9360'];
const yTickValues = [12.4, 12.45, 12.5];
const yTickLabels = ['12.4', '12.45', '12.5'];
const xRange = [9334.0, 9360.59];
const yRange = [12.378, 12.528];
const xTitle = 'HJD\u22122450000';
const yTitle = 'Magnitude';

// ---------- build ----------
function zip(ts, ms) {
  const n = Math.min(ts.length, ms.length);
  const out = [];
  for (let i = 0; i < n; i++) out.push({x: ts[i], y: ms[i]});
  return out;
}
const points = [].concat(
  zip(seg1Time, seg1Mag), zip(seg1bTime, seg1bMag), zip(gapTime, gapMag),
  zip(seg2Time, seg2Mag), zip(seg2bTime, seg2bMag),
  zip(dipTime, dipMag), zip(ingressTime, ingressMag), zip(coreTime, coreMag),
  zip(egressTime, egressMag), zip(seg3Time, seg3Mag), zip(seg3bTime, seg3bMag)
);

const FONT = '"Liberation Sans", Arial, Helvetica, sans-serif';

const framePlugin = {
  id: 'frame',
  afterDraw(chart) {
    const {ctx, chartArea: a, scales: {x, y}} = chart;
    ctx.save();
    ctx.lineWidth = 1.3;
    ctx.strokeStyle = '#7a7a7a';
    ctx.beginPath();
    ctx.moveTo(a.left, a.top); ctx.lineTo(a.right, a.top); ctx.lineTo(a.right, a.bottom);
    ctx.stroke();
    ctx.strokeStyle = '#1e1e1e';
    ctx.beginPath();
    ctx.moveTo(a.left, a.top); ctx.lineTo(a.left, a.bottom); ctx.lineTo(a.right, a.bottom);
    ctx.stroke();
    ctx.lineWidth = 1.2;
    ctx.beginPath();
    for (const v of xTickValues) {
      const px = x.getPixelForValue(v);
      ctx.moveTo(px, a.bottom); ctx.lineTo(px, a.bottom - 10);
      ctx.moveTo(px, a.top); ctx.lineTo(px, a.top + 10);
    }
    for (const v of yTickValues) {
      const py = y.getPixelForValue(v);
      ctx.moveTo(a.left, py); ctx.lineTo(a.left + 10, py);
      ctx.moveTo(a.right, py); ctx.lineTo(a.right - 10, py);
    }
    ctx.stroke();
    ctx.restore();
  }
};

new Chart(document.getElementById('c').getContext('2d'), {
  type: 'scatter',
  data: {
    datasets: [{
      data: points,
      pointRadius: 2.3,
      pointHoverRadius: 2.3,
      pointBorderWidth: 0,
      borderWidth: 0,
      backgroundColor: '#000',
      pointBackgroundColor: '#000'
    }]
  },
  options: {
    responsive: false,
    animation: false,
    events: [],
    layout: { padding: { left: 0, top: 11, right: 23, bottom: 0 } },
    plugins: { legend: { display: false }, tooltip: { enabled: false } },
    scales: {
      x: {
        type: 'linear',
        min: xRange[0], max: xRange[1],
        grid: { display: false, drawTicks: false },
        border: { display: false },
        afterBuildTicks: (s) => { s.ticks = xTickValues.map(v => ({value: v})); },
        ticks: {
          autoSkip: false, maxRotation: 0, minRotation: 0, padding: 7,
          color: '#000', font: { family: FONT, size: 35.5 },
          callback: (v, i) => xTickLabels[i]
        },
        title: {
          display: true, text: xTitle, color: '#000',
          font: { family: FONT, size: 36, lineHeight: 1 },
          padding: { top: 0, bottom: 2 }
        },
        afterFit: (s) => { s.height = 86.5; s.paddingLeft = 0; s.paddingRight = 0; }
      },
      y: {
        type: 'linear', reverse: true,
        min: yRange[0], max: yRange[1],
        grid: { display: false, drawTicks: false },
        border: { display: false },
        afterBuildTicks: (s) => { s.ticks = yTickValues.map(v => ({value: v})); },
        ticks: {
          autoSkip: false, padding: 8.3, labelOffset: 2.5,
          color: '#000', font: { family: FONT, size: 35.5 },
          callback: (v, i) => yTickLabels[i]
        },
        title: {
          display: true, text: yTitle, color: '#000',
          font: { family: FONT, size: 36, lineHeight: 1 },
          padding: { top: 2.5, bottom: 0 }
        },
        afterFit: (s) => { s.width = 148.3; s.paddingTop = 0; s.paddingBottom = 0; }
      }
    }
  },
  plugins: [framePlugin]
});
</script>
</body>
</html>
